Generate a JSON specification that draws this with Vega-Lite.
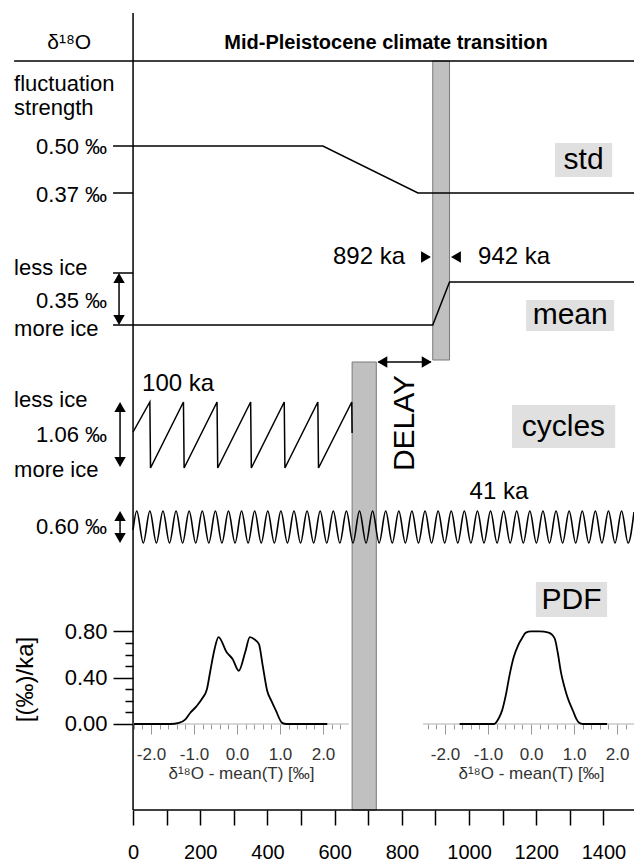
{
  "$schema": "https://vega.github.io/schema/vega-lite/v6.json",
  "width": 634,
  "height": 810,
  "autosize": {"type": "none"},
  "padding": {"left": 0, "top": 0, "right": 0, "bottom": 52},
  "background": "white",
  "config": {"view": {"stroke": null}, "font": "Liberation Sans", "axis": {"grid": false}},
  "datasets": {
    "bars": [
      {"x": 892, "x2": 942, "y": 450, "y2": 749},
      {"x": 652, "x2": 724, "y": 0, "y2": 448}
    ],
    "boxes": [
      {"name": "std", "x": 1256, "x2": 1426, "y": 633, "y2": 667},
      {"name": "mean", "x": 1170, "x2": 1432, "y": 479, "y2": 510},
      {"name": "cycles", "x": 1128, "x2": 1435, "y": 362, "y2": 405},
      {"name": "PDF", "x": 1199, "x2": 1411, "y": 193, "y2": 228}
    ],
    "rules": [
      {"x": 0, "x2": 0, "y": 0, "y2": 797},
      {"x": -354, "x2": 1491, "y": 749, "y2": 749},
      {"x": 0, "x2": 1491, "y": 0, "y2": 0},
      {"x": -59.5, "x2": 0, "y": 617, "y2": 617},
      {"x": -59.5, "x2": 0, "y": 537, "y2": 537},
      {"x": -41.7, "x2": -41.7, "y": 488, "y2": 534},
      {"x": -38.7, "x2": -38.7, "y": 346, "y2": 405},
      {"x": -38.7, "x2": -38.7, "y": 270, "y2": 296},
      {"x": 730, "x2": 886, "y": 448, "y2": 448}
    ],
    "lines": [
      {"s": "std", "x": -59.5, "y": 664}, {"s": "std", "x": 565, "y": 664}, {"s": "std", "x": 848, "y": 617}, {"s": "std", "x": 1491, "y": 617},
      {"s": "mean", "x": -59.5, "y": 485}, {"s": "mean", "x": 892, "y": 485}, {"s": "mean", "x": 942, "y": 528}, {"s": "mean", "x": 1491, "y": 528},
      {"s": "saw", "x": 0, "y": 378}, {"s": "saw", "x": 50, "y": 408}, {"s": "saw", "x": 52, "y": 342},
      {"s": "saw", "x": 150, "y": 408}, {"s": "saw", "x": 152, "y": 342},
      {"s": "saw", "x": 250, "y": 408}, {"s": "saw", "x": 252, "y": 342},
      {"s": "saw", "x": 350, "y": 408}, {"s": "saw", "x": 352, "y": 342},
      {"s": "saw", "x": 450, "y": 408}, {"s": "saw", "x": 452, "y": 342},
      {"s": "saw", "x": 550, "y": 408}, {"s": "saw", "x": 552, "y": 342},
      {"s": "saw", "x": 651, "y": 408}, {"s": "saw", "x": 652, "y": 377}
    ],
    "wave": [
      {"x": 0, "y": 280},
      {"x": 11, "y": 299}, {"x": 30.5, "y": 267}, {"x": 50, "y": 299}, {"x": 69.5, "y": 267},
      {"x": 89, "y": 299}, {"x": 108.5, "y": 267}, {"x": 128, "y": 299}, {"x": 147.5, "y": 267},
      {"x": 167, "y": 299}, {"x": 186.5, "y": 267}, {"x": 206, "y": 299}, {"x": 225.5, "y": 267},
      {"x": 245, "y": 299}, {"x": 264.5, "y": 267}, {"x": 284, "y": 299}, {"x": 303.5, "y": 267},
      {"x": 323, "y": 299}, {"x": 342.5, "y": 267}, {"x": 362, "y": 299}, {"x": 381.5, "y": 267},
      {"x": 401, "y": 299}, {"x": 420.5, "y": 267}, {"x": 440, "y": 299}, {"x": 459.5, "y": 267},
      {"x": 479, "y": 299}, {"x": 498.5, "y": 267}, {"x": 518, "y": 299}, {"x": 537.5, "y": 267},
      {"x": 557, "y": 299}, {"x": 576.5, "y": 267}, {"x": 596, "y": 299}, {"x": 615.5, "y": 267},
      {"x": 635, "y": 299}, {"x": 654.5, "y": 267}, {"x": 674, "y": 299}, {"x": 693.5, "y": 267},
      {"x": 713, "y": 299}, {"x": 732.5, "y": 267}, {"x": 752, "y": 299}, {"x": 771.5, "y": 267},
      {"x": 791, "y": 299}, {"x": 810.5, "y": 267}, {"x": 830, "y": 299}, {"x": 849.5, "y": 267},
      {"x": 869, "y": 299}, {"x": 888.5, "y": 267}, {"x": 908, "y": 299}, {"x": 927.5, "y": 267},
      {"x": 947, "y": 299}, {"x": 966.5, "y": 267}, {"x": 986, "y": 299}, {"x": 1005.5, "y": 267},
      {"x": 1025, "y": 299}, {"x": 1044.5, "y": 267}, {"x": 1064, "y": 299}, {"x": 1083.5, "y": 267},
      {"x": 1103, "y": 299}, {"x": 1122.5, "y": 267}, {"x": 1142, "y": 299}, {"x": 1161.5, "y": 267},
      {"x": 1181, "y": 299}, {"x": 1200.5, "y": 267}, {"x": 1220, "y": 299}, {"x": 1239.5, "y": 267},
      {"x": 1259, "y": 299}, {"x": 1278.5, "y": 267}, {"x": 1298, "y": 299}, {"x": 1317.5, "y": 267},
      {"x": 1337, "y": 299}, {"x": 1356.5, "y": 267}, {"x": 1376, "y": 299}, {"x": 1395.5, "y": 267},
      {"x": 1415, "y": 299}, {"x": 1434.5, "y": 267}, {"x": 1454, "y": 299}, {"x": 1473.5, "y": 267},
      {"x": 1491, "y": 298}
    ],
    "heads": [
      {"x": -41.7, "y": 532, "dir": "up"}, {"x": -41.7, "y": 490, "dir": "down"},
      {"x": -38.7, "y": 403, "dir": "up"}, {"x": -38.7, "y": 348, "dir": "down"},
      {"x": -38.7, "y": 294, "dir": "up"}, {"x": -38.7, "y": 272, "dir": "down"},
      {"x": 742, "y": 448, "dir": "left"}, {"x": 874, "y": 448, "dir": "right"},
      {"x": 872, "y": 553, "dir": "right"}, {"x": 961, "y": 553, "dir": "left"}
    ],
    "labels": [
      {"g": "hdr", "x": -190, "y": 767, "text": "δ¹⁸O"},
      {"g": "title", "x": 753, "y": 767, "text": "Mid-Pleistocene climate transition"},
      {"g": "left", "x": -354, "y": 726, "text": "fluctuation"},
      {"g": "left", "x": -354, "y": 702, "text": "strength"},
      {"g": "left", "x": -354, "y": 542, "text": "less ice"},
      {"g": "left", "x": -354, "y": 481, "text": "more ice"},
      {"g": "left", "x": -354, "y": 410, "text": "less ice"},
      {"g": "left", "x": -354, "y": 340, "text": "more ice"},
      {"g": "right", "x": -77.4, "y": 663, "text": "0.50 ‰"},
      {"g": "right", "x": -77.4, "y": 615, "text": "0.37 ‰"},
      {"g": "right", "x": -77.4, "y": 509, "text": "0.35 ‰"},
      {"g": "right", "x": -77.4, "y": 375, "text": "1.06 ‰"},
      {"g": "right", "x": -77.4, "y": 283, "text": "0.60 ‰"},
      {"g": "kaR", "x": 809.5, "y": 553, "text": "892 ka"},
      {"g": "kaL", "x": 1027, "y": 553, "text": "942 ka"},
      {"g": "ka", "x": 134, "y": 426, "text": "100 ka"},
      {"g": "ka", "x": 1089, "y": 318, "text": "41 ka"},
      {"g": "box", "x": 1341, "y": 650, "text": "std"},
      {"g": "box", "x": 1301, "y": 495, "text": "mean"},
      {"g": "box", "x": 1281, "y": 383, "text": "cycles"},
      {"g": "box", "x": 1305, "y": 210, "text": "PDF"},
      {"g": "delay", "x": 809.5, "y": 387, "text": "DELAY"}
    ],
    "pdfbase": [
      {"panel": "left", "dev": -2.42, "dev2": 2.6},
      {"panel": "right", "dev": -2.51, "dev2": 2.4}
    ],
    "pdf": [
      {"panel": "left", "dev": -2.4, "dens": 0}, {"panel": "left", "dev": -1.55, "dens": 0},
      {"panel": "left", "dev": -1.35, "dens": 0.01}, {"panel": "left", "dev": -1.2, "dens": 0.04},
      {"panel": "left", "dev": -1.09, "dens": 0.095}, {"panel": "left", "dev": -0.95, "dens": 0.15},
      {"panel": "left", "dev": -0.81, "dens": 0.22}, {"panel": "left", "dev": -0.7, "dens": 0.3},
      {"panel": "left", "dev": -0.62, "dens": 0.46}, {"panel": "left", "dev": -0.52, "dens": 0.65},
      {"panel": "left", "dev": -0.43, "dens": 0.75}, {"panel": "left", "dev": -0.24, "dens": 0.62},
      {"panel": "left", "dev": -0.1, "dens": 0.56}, {"panel": "left", "dev": 0.04, "dens": 0.46},
      {"panel": "left", "dev": 0.19, "dens": 0.62}, {"panel": "left", "dev": 0.3, "dens": 0.75},
      {"panel": "left", "dev": 0.41, "dens": 0.73}, {"panel": "left", "dev": 0.51, "dens": 0.69},
      {"panel": "left", "dev": 0.6, "dens": 0.5}, {"panel": "left", "dev": 0.7, "dens": 0.29},
      {"panel": "left", "dev": 0.8, "dens": 0.2}, {"panel": "left", "dev": 0.9, "dens": 0.12},
      {"panel": "left", "dev": 1.05, "dens": 0.01}, {"panel": "left", "dev": 1.15, "dens": 0},
      {"panel": "left", "dev": 2.1, "dens": 0},
      {"panel": "right", "dev": -1.66, "dens": 0}, {"panel": "right", "dev": -0.86, "dens": 0},
      {"panel": "right", "dev": -0.75, "dens": 0.05}, {"panel": "right", "dev": -0.67, "dens": 0.12},
      {"panel": "right", "dev": -0.58, "dens": 0.26}, {"panel": "right", "dev": -0.5, "dens": 0.42},
      {"panel": "right", "dev": -0.4, "dens": 0.58}, {"panel": "right", "dev": -0.3, "dens": 0.68},
      {"panel": "right", "dev": -0.21, "dens": 0.74}, {"panel": "right", "dev": -0.12, "dens": 0.79},
      {"panel": "right", "dev": 0.0, "dens": 0.8}, {"panel": "right", "dev": 0.2, "dens": 0.8},
      {"panel": "right", "dev": 0.41, "dens": 0.79}, {"panel": "right", "dev": 0.55, "dens": 0.74},
      {"panel": "right", "dev": 0.62, "dens": 0.62}, {"panel": "right", "dev": 0.7, "dens": 0.44},
      {"panel": "right", "dev": 0.77, "dens": 0.33}, {"panel": "right", "dev": 0.84, "dens": 0.24},
      {"panel": "right", "dev": 0.98, "dens": 0.11}, {"panel": "right", "dev": 1.06, "dens": 0.04},
      {"panel": "right", "dev": 1.12, "dens": 0.01}, {"panel": "right", "dev": 1.2, "dens": 0},
      {"panel": "right", "dev": 1.77, "dens": 0}
    ]
  },
  "resolve": {"scale": {"x": "independent", "y": "independent"}, "axis": {"x": "independent", "y": "independent"}},
  "layer": [
    {
      "layer": [
        {
          "data": {"name": "bars"},
          "mark": {"type": "rect", "fill": "#c0c0c0", "stroke": "#7a7a7a", "strokeWidth": 1},
          "encoding": {
            "x": {"field": "x", "type": "quantitative", "scale": {"domain": [-396, 1491], "nice": false, "zero": false},
              "axis": {"orient": "bottom", "values": [0,50,100,150,200,250,300,350,400,450,500,550,600,650,700,750,800,850,900,950,1000,1050,1100,1150,1200,1250,1300,1350,1400,1450],
                "domain": false, "tickColor": "black", "tickWidth": 1.5,
                "tickSize": {"condition": {"test": "datum.value % 100 === 0", "value": 15}, "value": 8},
                "format": "d", "labelExpr": "datum.value % 200 === 0 ? datum.label : ''",
                "labelFontSize": 20, "labelColor": "black", "labelPadding": 17, "labelOverlap": false, "labelFlush": false, "labelBound": false, "title": null, "grid": false}},
            "x2": {"field": "x2"},
            "y": {"field": "y", "type": "quantitative", "scale": {"domain": [0, 810], "nice": false, "zero": false}, "axis": null},
            "y2": {"field": "y2"}
          }
        },
        {
          "data": {"name": "boxes"},
          "mark": {"type": "rect", "fill": "#e0e0e0"},
          "encoding": {
            "x": {"field": "x", "type": "quantitative"}, "x2": {"field": "x2"},
            "y": {"field": "y", "type": "quantitative"}, "y2": {"field": "y2"}
          }
        },
        {
          "data": {"name": "rules"},
          "mark": {"type": "rule", "color": "black", "strokeWidth": 1.5},
          "encoding": {
            "x": {"field": "x", "type": "quantitative"}, "x2": {"field": "x2"},
            "y": {"field": "y", "type": "quantitative"}, "y2": {"field": "y2"}
          }
        },
        {
          "data": {"name": "lines"},
          "mark": {"type": "line", "color": "black", "strokeWidth": 1.5},
          "encoding": {
            "x": {"field": "x", "type": "quantitative"},
            "y": {"field": "y", "type": "quantitative"},
            "detail": {"field": "s", "type": "nominal"}
          }
        },
        {
          "data": {"name": "wave"},
          "mark": {"type": "line", "color": "black", "strokeWidth": 1.6, "interpolate": "monotone"},
          "encoding": {
            "x": {"field": "x", "type": "quantitative"},
            "y": {"field": "y", "type": "quantitative"}
          }
        },
        {
          "data": {"name": "heads"},
          "mark": {"type": "point", "filled": true, "color": "black", "opacity": 1, "size": 130},
          "encoding": {
            "x": {"field": "x", "type": "quantitative"},
            "y": {"field": "y", "type": "quantitative"},
            "shape": {"field": "dir", "type": "nominal", "scale": {"domain": ["up", "down", "left", "right"], "range": ["triangle-up", "triangle-down", "triangle-left", "triangle-right"]}, "legend": null}
          }
        },
        {
          "data": {"name": "labels"},
          "transform": [{"filter": "datum.g === 'hdr'"}],
          "mark": {"type": "text", "fontSize": 21, "align": "center", "baseline": "middle", "color": "black"},
          "encoding": {"x": {"field": "x", "type": "quantitative"}, "y": {"field": "y", "type": "quantitative"}, "text": {"field": "text"}}
        },
        {
          "data": {"name": "labels"},
          "transform": [{"filter": "datum.g === 'title'"}],
          "mark": {"type": "text", "fontSize": 20, "fontWeight": "bold", "align": "center", "baseline": "middle", "color": "black"},
          "encoding": {"x": {"field": "x", "type": "quantitative"}, "y": {"field": "y", "type": "quantitative"}, "text": {"field": "text"}}
        },
        {
          "data": {"name": "labels"},
          "transform": [{"filter": "datum.g === 'left'"}],
          "mark": {"type": "text", "fontSize": 22, "align": "left", "baseline": "middle", "color": "black"},
          "encoding": {"x": {"field": "x", "type": "quantitative"}, "y": {"field": "y", "type": "quantitative"}, "text": {"field": "text"}}
        },
        {
          "data": {"name": "labels"},
          "transform": [{"filter": "datum.g === 'right'"}],
          "mark": {"type": "text", "fontSize": 22, "align": "right", "baseline": "middle", "color": "black"},
          "encoding": {"x": {"field": "x", "type": "quantitative"}, "y": {"field": "y", "type": "quantitative"}, "text": {"field": "text"}}
        },
        {
          "data": {"name": "labels"},
          "transform": [{"filter": "datum.g === 'kaR'"}],
          "mark": {"type": "text", "fontSize": 24, "align": "right", "baseline": "middle", "color": "black"},
          "encoding": {"x": {"field": "x", "type": "quantitative"}, "y": {"field": "y", "type": "quantitative"}, "text": {"field": "text"}}
        },
        {
          "data": {"name": "labels"},
          "transform": [{"filter": "datum.g === 'kaL'"}],
          "mark": {"type": "text", "fontSize": 24, "align": "left", "baseline": "middle", "color": "black"},
          "encoding": {"x": {"field": "x", "type": "quantitative"}, "y": {"field": "y", "type": "quantitative"}, "text": {"field": "text"}}
        },
        {
          "data": {"name": "labels"},
          "transform": [{"filter": "datum.g === 'ka'"}],
          "mark": {"type": "text", "fontSize": 24, "align": "center", "baseline": "middle", "color": "black"},
          "encoding": {"x": {"field": "x", "type": "quantitative"}, "y": {"field": "y", "type": "quantitative"}, "text": {"field": "text"}}
        },
        {
          "data": {"name": "labels"},
          "transform": [{"filter": "datum.g === 'box'"}],
          "mark": {"type": "text", "fontSize": 30, "align": "center", "baseline": "middle", "color": "black"},
          "encoding": {"x": {"field": "x", "type": "quantitative"}, "y": {"field": "y", "type": "quantitative"}, "text": {"field": "text"}}
        },
        {
          "data": {"name": "labels"},
          "transform": [{"filter": "datum.g === 'delay'"}],
          "mark": {"type": "text", "fontSize": 30, "align": "center", "baseline": "middle", "angle": 270, "color": "black"},
          "encoding": {"x": {"field": "x", "type": "quantitative"}, "y": {"field": "y", "type": "quantitative"}, "text": {"field": "text"}}
        }
      ]
    },
    {
      "resolve": {"axis": {"x": "independent"}},
      "layer": [
        {
          "data": {"name": "pdfbase"},
          "transform": [{"filter": "datum.panel === 'left'"}],
          "mark": {"type": "rule", "color": "#b0b0b0", "strokeWidth": 1},
          "encoding": {
            "x": {"field": "dev", "type": "quantitative", "scale": {"domain": [-5.512, 9.233], "nice": false, "zero": false},
              "axis": {"orient": "bottom", "offset": -86, "domain": false, "values": [-2, -1, 0, 1, 2],
                "tickColor": "#999999", "tickWidth": 1, "tickSize": 10,
                "labelExpr": "replace(format(datum.value, '.1f'), '−', '-')",
                "labelFontSize": 17, "labelColor": "#333333", "labelPadding": 12, "labelOverlap": false, "labelFlush": false, "labelBound": false,
                "title": "δ¹⁸O - mean(T) [‰]", "titleFontSize": 17, "titleFontWeight": "normal", "titleColor": "#333333",
                "titleX": 241, "titleY": 49, "titleAlign": "center", "titleBaseline": "middle", "grid": false}},
            "x2": {"field": "dev2"},
            "y": {"datum": 0, "type": "quantitative", "scale": {"domain": [-0.743, 6.255], "nice": false, "zero": false},
              "axis": {"orient": "left", "offset": -133, "domain": false, "values": [0,0.1,0.2,0.3,0.4,0.5,0.6,0.7,0.8],
                "tickColor": "black", "tickWidth": 1.5,
                "tickSize": {"condition": {"test": "round(datum.value*100) % 40 === 0", "value": 20}, "value": 8},
                "labelExpr": "round(datum.value*100) % 40 === 0 ? format(datum.value, '.2f') : ''",
                "labelFontSize": 22, "labelColor": "black", "labelPadding": 6, "labelOverlap": false, "labelBound": false, "labelFlush": false,
                "title": "[(‰)/ka]", "titleFontSize": 24, "titleFontWeight": "normal", "titleColor": "black",
                "titleX": -108, "titleY": 679, "titleAngle": 270, "titleAlign": "center", "titleBaseline": "middle", "grid": false}}
          }
        },
        {
          "data": {"name": "pdf"},
          "transform": [{"filter": "datum.panel === 'left'"}],
          "mark": {"type": "line", "color": "black", "strokeWidth": 1.8, "interpolate": "monotone"},
          "encoding": {
            "x": {"field": "dev", "type": "quantitative", "scale": {"domain": [-5.512, 9.233], "nice": false, "zero": false},
              "axis": {"orient": "bottom", "offset": -86, "domain": false,
                "values": [-2.4,-2.2,-1.8,-1.6,-1.4,-1.2,-0.8,-0.6,-0.4,-0.2,0.2,0.4,0.6,0.8,1.2,1.4,1.6,1.8,2.2,2.4],
                "tickColor": "#999999", "tickWidth": 1, "tickSize": 5, "labels": false, "title": null, "grid": false}},
            "y": {"field": "dens", "type": "quantitative", "scale": {"domain": [-0.743, 6.255], "nice": false, "zero": false}}
          }
        }
      ]
    },
    {
      "resolve": {"axis": {"x": "independent"}},
      "layer": [
        {
          "data": {"name": "pdfbase"},
          "transform": [{"filter": "datum.panel === 'right'"}],
          "mark": {"type": "rule", "color": "#b0b0b0", "strokeWidth": 1},
          "encoding": {
            "x": {"field": "dev", "type": "quantitative", "scale": {"domain": [-12.349, 2.395], "nice": false, "zero": false},
              "axis": {"orient": "bottom", "offset": -86, "domain": false, "values": [-2, -1, 0, 1, 2],
                "tickColor": "#999999", "tickWidth": 1, "tickSize": 10,
                "labelExpr": "replace(format(datum.value, '.1f'), '−', '-')",
                "labelFontSize": 17, "labelColor": "#333333", "labelPadding": 12, "labelOverlap": false, "labelFlush": false, "labelBound": false,
                "title": "δ¹⁸O - mean(T) [‰]", "titleFontSize": 17, "titleFontWeight": "normal", "titleColor": "#333333",
                "titleX": 531, "titleY": 49, "titleAlign": "center", "titleBaseline": "middle", "grid": false}},
            "x2": {"field": "dev2"},
            "y": {"datum": 0, "type": "quantitative", "scale": {"domain": [-0.743, 6.255], "nice": false, "zero": false}, "axis": null}
          }
        },
        {
          "data": {"name": "pdf"},
          "transform": [{"filter": "datum.panel === 'right'"}],
          "mark": {"type": "line", "color": "black", "strokeWidth": 1.8, "interpolate": "monotone"},
          "encoding": {
            "x": {"field": "dev", "type": "quantitative", "scale": {"domain": [-12.349, 2.395], "nice": false, "zero": false},
              "axis": {"orient": "bottom", "offset": -86, "domain": false,
                "values": [-2.4,-2.2,-1.8,-1.6,-1.4,-1.2,-0.8,-0.6,-0.4,-0.2,0.2,0.4,0.6,0.8,1.2,1.4,1.6,1.8,2.2],
                "tickColor": "#999999", "tickWidth": 1, "tickSize": 5, "labels": false, "title": null, "grid": false}},
            "y": {"field": "dens", "type": "quantitative", "scale": {"domain": [-0.743, 6.255], "nice": false, "zero": false}, "axis": null}
          }
        }
      ]
    }
  ]
}
